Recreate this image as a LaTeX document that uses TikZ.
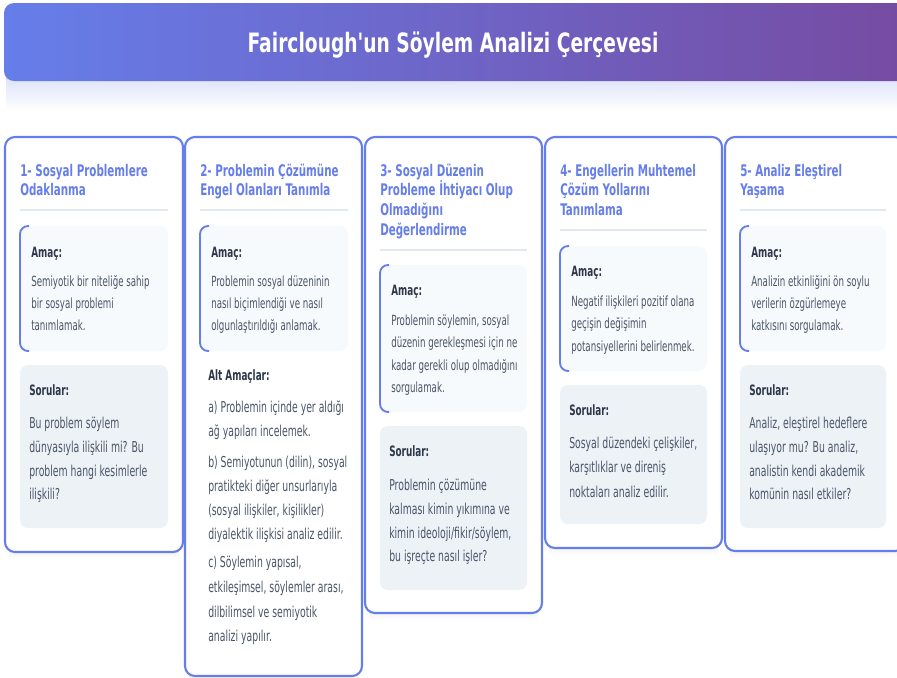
\documentclass[tikz,border=0pt]{standalone}
\usepackage{fontspec}
\setmainfont{DejaVu Sans}[FakeStretch=0.62]
\newfontfamily\titlefont{DejaVu Sans}[FakeStretch=0.70]
\newfontfamily\headfont{DejaVu Sans}[FakeStretch=0.645]
\usetikzlibrary{calc}
\definecolor{c1}{HTML}{667EEA}
\definecolor{c2}{HTML}{764BA2}
\definecolor{amacbg}{HTML}{F7FAFC}
\definecolor{sorbg}{HTML}{EDF2F7}
\definecolor{sepc}{HTML}{E2E8F0}
\definecolor{lbl}{HTML}{2D3748}
\definecolor{bodytxt}{HTML}{4A5568}
\newcommand\amacbox[4]{%
  \fill[amacbg,rounded corners=6pt] (#1,#2) rectangle (#3,#4);
  \draw[c1,line width=1.4pt,rounded corners=6pt] (#1,#2) ++(9,0) -- ++(-9,0) -- (#1,#4) -- ++(9,0);}
\newcommand\sorbox[4]{%
  \fill[sorbg,rounded corners=6pt] (#1,#2) rectangle (#3,#4);}
\newcommand\sepline[3]{\draw[sepc,line width=1.5pt] (#1,#3) -- (#2,#3);}
\begin{document}
\begin{tikzpicture}[x=0.75pt,y=-0.75pt,
  card/.style={draw=c1,line width=1.6pt,fill=white,rounded corners=7.5pt},
  head/.style={anchor=base west,inner sep=0,font=\headfont\fontsize{12}{15}\selectfont\bfseries,text=c1},
  lab/.style={anchor=base west,inner sep=0,font=\fontsize{10.7}{13}\selectfont\bfseries,text=lbl},
  atxt/.style={anchor=base west,inner sep=0,font=\fontsize{10.5}{13}\selectfont,text=bodytxt},
  stxt/.style={anchor=base west,inner sep=0,font=\fontsize{11.25}{14}\selectfont,text=bodytxt},
]
\useasboundingbox (0,0) rectangle (897,678);
\clip (0,0) rectangle (897,678);
\fill[white] (0,0) rectangle (897,678);
% shadows
\shade[top color=c1!22, bottom color=white] (6,78) rectangle (905,110);
\foreach \x/\y/\w/\h in {5/552/178/0,185/676/177/0,365/613/177/0,545/548/177/0,725/551/180/0}
  \shade[top color=black!7, bottom color=white] (\x+4,\y-4) rectangle (\x+\w-4,\y+7);
% title
\shade[left color=c1, right color=c2, rounded corners=7.5pt] (4,3) rectangle (910,81);
\node[anchor=base,inner sep=0,font=\titlefont\fontsize{20}{24}\selectfont\bfseries,text=white] (title) at (453,52) {Fairclough\symbol{39}un Söylem Analizi Çerçevesi};
% cards
\draw[card] (5,137) rectangle (183,552);
\draw[card] (185,137) rectangle (362,676);
\draw[card] (365,137) rectangle (542,613);
\draw[card] (545,137) rectangle (722,548);
\draw[card] (725,137) rectangle (905,551);

% ---------- card 1
\foreach \yy/\tt in {176/{1- Sosyal Problemlere},195/{Odaklanma}} \node[head] at (20,\yy) {\tt};
\sepline{20}{168}{210}
\amacbox{20}{226}{168}{351}
\node[lab] at (31,257) {Amaç:};
\foreach \yy/\tt in {286/{Semiyotik bir niteliğe sahip},308/{bir sosyal problemi},330/{tanımlamak.}} \node[atxt] at (31,\yy) {\tt};
\sorbox{20}{365}{168}{528}
\node[lab] at (29,395) {Sorular:};
\foreach \yy/\tt in {428/{Bu problem söylem},452/{dünyasıyla ilişkili mi? Bu},476/{problem hangi kesimlerle},499/{ilişkili?}} \node[stxt] at (29,\yy) {\tt};

% ---------- card 2
\foreach \yy/\tt in {176/{2- Problemin Çözümüne},195/{Engel Olanları Tanımla}} \node[head] at (200,\yy) {\tt};
\sepline{200}{348}{210}
\amacbox{200}{226}{348}{351}
\node[lab] at (211,257) {Amaç:};
\foreach \yy/\tt in {286/{Problemin sosyal düzeninin},308/{nasıl biçimlendiği ve nasıl},330/{olgunlaştırıldığı anlamak.}} \node[atxt] at (211,\yy) {\tt};
\node[lab] at (208,380) {Alt Amaçlar:};
\foreach \yy/\tt in {412/{a) Problemin içinde yer aldığı},436/{ağ yapıları incelemek.},
  467/{b) Semiyotunun (dilin), sosyal},491/{pratikteki diğer unsurlarıyla},515/{(sosyal ilişkiler, kişilikler)},539/{diyalektik ilişkisi analiz edilir.},
  567/{c) Söylemin yapısal,},592/{etkileşimsel, söylemler arası,},617/{dilbilimsel ve semiyotik},641/{analizi yapılır.}} \node[stxt] at (208,\yy) {\tt};

% ---------- card 3
\foreach \yy/\tt in {176/{3- Sosyal Düzenin},195/{Probleme İhtiyacı Olup},215/{Olmadığını},235/{Değerlendirme}} \node[head] at (380,\yy) {\tt};
\sepline{380}{527}{250}
\amacbox{380}{265}{527}{412}
\node[lab] at (391,295) {Amaç:};
\foreach \yy/\tt in {325/{Problemin söylemin, sosyal},347/{düzenin gerekleşmesi için ne},370/{kadar gerekli olup olmadığını},392/{sorgulamak.}} \node[atxt] at (391,\yy) {\tt};
\sorbox{380}{426}{527}{590}
\node[lab] at (389,456) {Sorular:};
\foreach \yy/\tt in {490/{Problemin çözümüne},514/{kalması kimin yıkımına ve},538/{kimin ideoloji/fikir/söylem,},561/{bu işreçte nasıl işler?}} \node[stxt] at (389,\yy) {\tt};

% ---------- card 4
\foreach \yy/\tt in {176/{4- Engellerin Muhtemel},195/{Çözüm Yollarını},215/{Tanımlama}} \node[head] at (560,\yy) {\tt};
\sepline{560}{707}{230}
\amacbox{560}{246}{707}{371}
\node[lab] at (571,276) {Amaç:};
\foreach \yy/\tt in {306/{Negatif ilişkileri pozitif olana},328/{geçişin değişimin},351/{potansiyellerini belirlenmek.}} \node[atxt] at (571,\yy) {\tt};
\sorbox{560}{385}{707}{524}
\node[lab] at (569,415) {Sorular:};
\foreach \yy/\tt in {448/{Sosyal düzendeki çelişkiler,},472/{karşıtlıklar ve direniş},497/{noktaları analiz edilir.}} \node[stxt] at (569,\yy) {\tt};

% ---------- card 5
\foreach \yy/\tt in {176/{5- Analiz Eleştirel},195/{Yaşama}} \node[head] at (740,\yy) {\tt};
\sepline{740}{886}{210}
\amacbox{740}{226}{886}{351}
\node[lab] at (751,257) {Amaç:};
\foreach \yy/\tt in {286/{Analizin etkinliğini ön soylu},308/{verilerin özgürlemeye},330/{katkısını sorgulamak.}} \node[atxt] at (751,\yy) {\tt};
\sorbox{740}{365}{886}{528}
\node[lab] at (749,395) {Sorular:};
\foreach \yy/\tt in {428/{Analiz, eleştirel hedeflere},452/{ulaşıyor mu? Bu analiz,},476/{analistin kendi akademik},499/{komünin nasıl etkiler?}} \node[stxt] at (749,\yy) {\tt};
\end{tikzpicture}
\end{document}
